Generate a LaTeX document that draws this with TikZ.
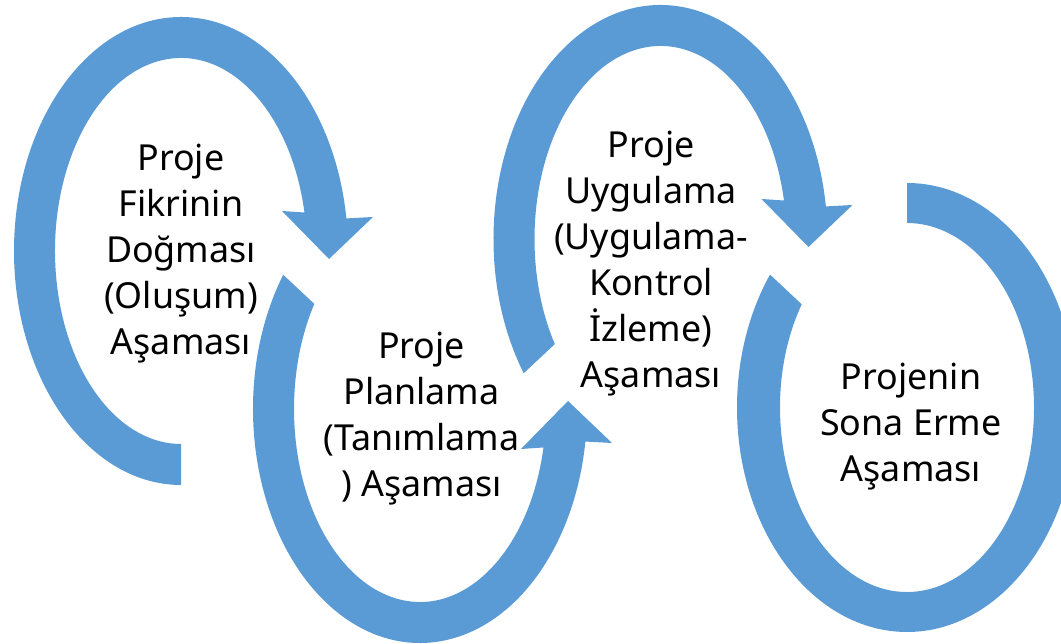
\documentclass[tikz,border=0pt]{standalone}
\usepackage{fontspec}
\setmainfont{Noto Sans}
\definecolor{band}{HTML}{5B9BD5}
\definecolor{txt}{HTML}{000000}
\tikzset{
  ring/.style={fill=band, draw=none},
  lbl/.style={font=\fontsize{20.4}{26.2}\selectfont, text=txt, align=center, inner sep=0pt},
}
% clockwise ring with its head on the right; #1 outer tail angle, #2 inner tail angle
\newcommand{\ringarrow}[2]{
  \fill[ring] (#1:167 and 234) arc[start angle=#1, end angle=8, x radius=167, y radius=234]
    -- (192,34) -- (148,-8) -- (101,40)
    -- (11.5:126 and 193) arc[start angle=11.5, end angle=#2, x radius=126, y radius=193] -- cycle;
}

\begin{document}
\begin{tikzpicture}[x=0.02cm, y=0.02cm]
\useasboundingbox (0,0) rectangle (1061,644);
\clip (0,0) rectangle (1061,644);

% ---------------- 1. idea ----------------
\begin{scope}[shift={(181,393)}]
  \ringarrow{270}{270}
\end{scope}

% ---------------- 2. planning (mirrored) ----------------
\begin{scope}[shift={(420,235)}, yscale=-1]
  \ringarrow{215}{213}
\end{scope}

% ---------------- 3. execution ----------------
\begin{scope}[shift={(660.5,405)}]
  \ringarrow{215}{213}
\end{scope}

% ---------------- 4. closing, no head ----------------
\begin{scope}[shift={(907,236.5)}]
  \fill[ring] (90:170 and 224.5) arc[start angle=90, end angle=-216.3, x radius=170, y radius=224.5]
    -- (-214:127 and 184.5) arc[start angle=-214, end angle=90, x radius=127, y radius=184.5] -- cycle;
\end{scope}

% labels
\node[lbl] (faz1) at (181,390) {Proje\\Fikrinin\\Doğması\\(Oluşum)\\Aşaması};
\node[lbl] (faz2) at (421.5,225) {Proje\\Planlama\\(Tanımlama\\) Aşaması};
\node[lbl] (faz3) at (651,380) {Proje\\Uygulama\\(Uygulama-\\Kontrol\\İzleme)\\Aşaması};
\node[lbl] (faz4) at (911,217) {Projenin\\Sona Erme\\Aşaması};
\end{tikzpicture}
\end{document}
